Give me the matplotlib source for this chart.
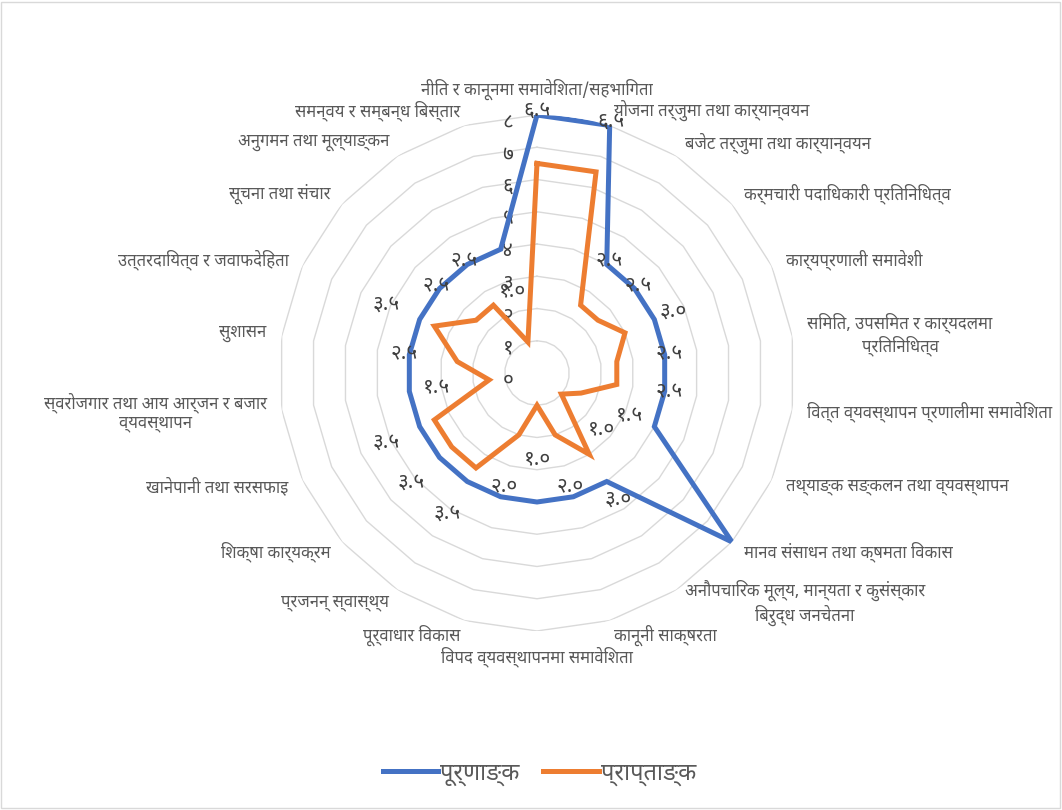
import numpy as np
import matplotlib
matplotlib.use('Agg')
import matplotlib.pyplot as plt
from matplotlib import font_manager
from matplotlib.ft2font import FT2Font
from matplotlib.patches import Rectangle

categories = ['नीति र कानूनमा समावेशिता/सहभागिता', 'योजना तर्जुमा तथा कार्यान्वयन',
              'बजेट तर्जुमा तथा कार्यान्वयन', 'कर्मचारी पदाधिकारी प्रतिनिधित्व',
              'कार्यप्रणाली समावेशी', 'समिति, उपसमित र कार्यदलमा\nप्रतिनिधित्व',
              'वित्त व्यवस्थापन प्रणालीमा समावेशिता', 'तथ्याङ्क सङ्कलन तथा व्यवस्थापन',
              'मानव संसाधन तथा क्षमता विकास',
              'अनौपचारिक मूल्य, मान्यता र कुसंस्कार\nबिरुद्ध जनचेतना',
              'कानूनी साक्षरता', 'विपद व्यवस्थापनमा समावेशिता', 'पूर्वाधार विकास',
              'प्रजनन् स्वास्थ्य', 'शिक्षा कार्यक्रम', 'खानेपानी तथा सरसफाइ',
              'स्वरोजगार तथा आय आर्जन र बजार\nव्यवस्थापन', 'सुशासन',
              'उत्तरदायित्व र जवाफदेहिता', 'सूचना तथा संचार', 'अनुगमन तथा मूल्याङ्कन',
              'समन्वय र सम्बन्ध बिस्तार']
full_marks = [8, 8, 4, 4, 4, 4, 4, 4, 8, 4, 4, 4, 4, 4, 4, 4, 4, 4, 4, 4, 4, 4]
obtained = [6.5, 6.5, 2.5, 2.5, 3.0, 2.5, 2.5, 1.5, 1.0, 3.0, 2.0, 1.0,
            2.0, 3.5, 3.5, 3.5, 1.5, 2.5, 3.5, 2.5, 2.5, 1.0]
series_names = ['पूर्णाङ्क', 'प्राप्ताङ्क']
ring_values = [0, 1, 2, 3, 4, 5, 6, 7, 8]

BLUE = '#4472C4'
ORANGE = '#ED7D31'
GRID = '#D9D9D9'


def find_deva_font():
    names = []
    for f in font_manager.fontManager.ttflist:
        try:
            if 0x0915 in FT2Font(f.fname).get_charmap():
                names.append(f.name)
        except Exception:
            pass
    for pref in ['Noto Sans Devanagari', 'Nirmala UI', 'Mangal', 'Lohit Devanagari', 'FreeSans']:
        if pref in names:
            return pref
    if names:
        return sorted(names)[0]
    return 'DejaVu Sans'


deva = find_deva_font()
plt.rcParams['font.family'] = [deva, 'DejaVu Sans']

HALANT = '\u094d'
NUKTA = '\u093c'


def is_cons(ch):
    return '\u0915' <= ch <= '\u0939' or '\u0958' <= ch <= '\u095f'


def shape(s):
    # matplotlib has no complex text layout, so put the short i matra before its cluster
    out = []
    for ch in s:
        if ch == '\u093f' and out:
            j = len(out) - 1
            if out[j] == NUKTA:
                j -= 1
            while j >= 2 and out[j - 1] == HALANT and is_cons(out[j - 2]):
                j -= 2
            out.insert(j, ch)
        else:
            out.append(ch)
    return ''.join(out)


def deva_num(v, fmt):
    return (fmt % v).translate(str.maketrans('0123456789', '०१२३४५६७८९'))


n = len(categories)
theta = np.arange(n) * 2 * np.pi / n
theta_c = np.append(theta, theta[0])

fig = plt.figure(figsize=(10.62, 8.10), dpi=100)
ax = fig.add_axes([0.2627, 0.221, 0.4859, 0.637], projection='polar')
ax.set_theta_zero_location('N')
ax.set_theta_direction(-1)
ax.set_ylim(0, 8)
ax.set_axis_off()

for r in ring_values[1:]:
    ax.plot(theta_c, [r] * (n + 1), color=GRID, lw=1, zorder=1)

for r in ring_values:
    ax.annotate(deva_num(r, '%d'), xy=(0, r), xytext=(-21, -5), textcoords='offset points',
                ha='center', va='center', fontsize=15, color='#404040', zorder=2)

l1, = ax.plot(theta_c, full_marks + full_marks[:1], color=BLUE, lw=3.6, zorder=3,
              solid_joinstyle='miter', label=shape(series_names[0]))
l2, = ax.plot(theta_c, obtained + obtained[:1], color=ORANGE, lw=3.6, zorder=3,
              solid_joinstyle='miter', label=shape(series_names[1]))

for t, v in zip(theta, obtained):
    ax.text(t, v + 1.65, deva_num(v, '%.1f'), ha='center', va='center',
            fontsize=15, color='#404040', zorder=4)

pad = 11
for t, lab in zip(theta, categories):
    s, c = np.sin(t), np.cos(t)
    if abs(s) < 1e-6:
        ha = 'center'
    elif s > 0:
        ha = 'left'
    else:
        ha = 'right'
    if ha == 'center':
        va = 'bottom' if c > 0 else 'top'
    else:
        va = 'center'
    ax.annotate(shape(lab), xy=(t, 8), xytext=(pad * s, pad * c), textcoords='offset points',
                ha=ha, va=va, multialignment='center', fontsize=12, color='#595959')

fig.legend(handles=[l1, l2], loc='center', bbox_to_anchor=(0.508, 0.045), ncol=2,
           frameon=False, fontsize=17, handlelength=2.35, handletextpad=0.1,
           columnspacing=1.0, labelcolor='#595959')

fig.patches.append(Rectangle((0.001, 0.003), 0.997, 0.995, transform=fig.transFigure,
                             fill=False, ec=GRID, lw=1))

fig.savefig('out.png', dpi=100, facecolor='white')
